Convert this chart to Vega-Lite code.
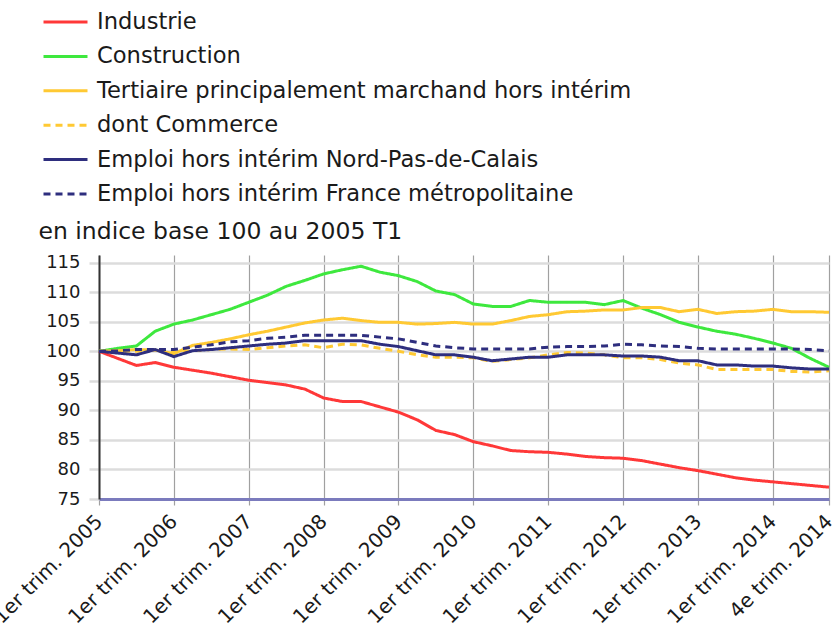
{
  "$schema": "https://vega.github.io/schema/vega-lite/v6.json",
  "width": 730,
  "height": 244,
  "autosize": {"type": "none"},
  "padding": {"left": 99, "top": 255, "right": 3, "bottom": 141},
  "background": "white",
  "config": {
    "view": {"stroke": null},
    "font": "DejaVu Sans",
    "legend": {"rowPadding": 9.4}
  },
  "data": {
    "values": [
      {"t":0,"Industrie":100,"Construction":100,"Tertiaire principalement marchand hors intérim":100,"dont Commerce":100,"Emploi hors intérim Nord-Pas-de-Calais":100,"Emploi hors intérim France métropolitaine":100},
      {"t":1,"Industrie":98.8,"Construction":100.5,"Tertiaire principalement marchand hors intérim":100.1,"dont Commerce":100.0,"Emploi hors intérim Nord-Pas-de-Calais":99.7,"Emploi hors intérim France métropolitaine":100.1},
      {"t":2,"Industrie":97.6,"Construction":100.9,"Tertiaire principalement marchand hors intérim":100.3,"dont Commerce":100.0,"Emploi hors intérim Nord-Pas-de-Calais":99.4,"Emploi hors intérim France métropolitaine":100.3},
      {"t":3,"Industrie":98.1,"Construction":103.4,"Tertiaire principalement marchand hors intérim":100.2,"dont Commerce":100.3,"Emploi hors intérim Nord-Pas-de-Calais":100.3,"Emploi hors intérim France métropolitaine":100.3},
      {"t":4,"Industrie":97.3,"Construction":104.6,"Tertiaire principalement marchand hors intérim":99.6,"dont Commerce":99.8,"Emploi hors intérim Nord-Pas-de-Calais":99.1,"Emploi hors intérim France métropolitaine":100.3},
      {"t":5,"Industrie":96.8,"Construction":105.3,"Tertiaire principalement marchand hors intérim":101.0,"dont Commerce":100.1,"Emploi hors intérim Nord-Pas-de-Calais":100.1,"Emploi hors intérim France métropolitaine":100.7},
      {"t":6,"Industrie":96.3,"Construction":106.2,"Tertiaire principalement marchand hors intérim":101.5,"dont Commerce":100.3,"Emploi hors intérim Nord-Pas-de-Calais":100.3,"Emploi hors intérim France métropolitaine":101.1},
      {"t":7,"Industrie":95.7,"Construction":107.1,"Tertiaire principalement marchand hors intérim":102.1,"dont Commerce":100.4,"Emploi hors intérim Nord-Pas-de-Calais":100.6,"Emploi hors intérim France métropolitaine":101.6},
      {"t":8,"Industrie":95.1,"Construction":108.3,"Tertiaire principalement marchand hors intérim":102.8,"dont Commerce":100.3,"Emploi hors intérim Nord-Pas-de-Calais":100.9,"Emploi hors intérim France métropolitaine":101.8},
      {"t":9,"Industrie":94.7,"Construction":109.5,"Tertiaire principalement marchand hors intérim":103.4,"dont Commerce":100.6,"Emploi hors intérim Nord-Pas-de-Calais":101.2,"Emploi hors intérim France métropolitaine":102.2},
      {"t":10,"Industrie":94.3,"Construction":111.0,"Tertiaire principalement marchand hors intérim":104.1,"dont Commerce":100.9,"Emploi hors intérim Nord-Pas-de-Calais":101.4,"Emploi hors intérim France métropolitaine":102.4},
      {"t":11,"Industrie":93.6,"Construction":112.0,"Tertiaire principalement marchand hors intérim":104.8,"dont Commerce":101.1,"Emploi hors intérim Nord-Pas-de-Calais":101.8,"Emploi hors intérim France métropolitaine":102.7},
      {"t":12,"Industrie":92.1,"Construction":113.1,"Tertiaire principalement marchand hors intérim":105.3,"dont Commerce":100.6,"Emploi hors intérim Nord-Pas-de-Calais":101.8,"Emploi hors intérim France métropolitaine":102.7},
      {"t":13,"Industrie":91.5,"Construction":113.8,"Tertiaire principalement marchand hors intérim":105.6,"dont Commerce":101.2,"Emploi hors intérim Nord-Pas-de-Calais":101.8,"Emploi hors intérim France métropolitaine":102.7},
      {"t":14,"Industrie":91.5,"Construction":114.4,"Tertiaire principalement marchand hors intérim":105.2,"dont Commerce":101.1,"Emploi hors intérim Nord-Pas-de-Calais":101.8,"Emploi hors intérim France métropolitaine":102.7},
      {"t":15,"Industrie":90.6,"Construction":113.4,"Tertiaire principalement marchand hors intérim":104.9,"dont Commerce":100.5,"Emploi hors intérim Nord-Pas-de-Calais":101.2,"Emploi hors intérim France métropolitaine":102.4},
      {"t":16,"Industrie":89.7,"Construction":112.8,"Tertiaire principalement marchand hors intérim":104.9,"dont Commerce":100.0,"Emploi hors intérim Nord-Pas-de-Calais":100.8,"Emploi hors intérim France métropolitaine":102.1},
      {"t":17,"Industrie":88.4,"Construction":111.8,"Tertiaire principalement marchand hors intérim":104.6,"dont Commerce":99.4,"Emploi hors intérim Nord-Pas-de-Calais":100.1,"Emploi hors intérim France métropolitaine":101.5},
      {"t":18,"Industrie":86.6,"Construction":110.2,"Tertiaire principalement marchand hors intérim":104.7,"dont Commerce":99.0,"Emploi hors intérim Nord-Pas-de-Calais":99.4,"Emploi hors intérim France métropolitaine":100.9},
      {"t":19,"Industrie":85.9,"Construction":109.6,"Tertiaire principalement marchand hors intérim":104.9,"dont Commerce":99.0,"Emploi hors intérim Nord-Pas-de-Calais":99.4,"Emploi hors intérim France métropolitaine":100.6},
      {"t":20,"Industrie":84.7,"Construction":108.0,"Tertiaire principalement marchand hors intérim":104.6,"dont Commerce":98.9,"Emploi hors intérim Nord-Pas-de-Calais":99.0,"Emploi hors intérim France métropolitaine":100.4},
      {"t":21,"Industrie":84.0,"Construction":107.6,"Tertiaire principalement marchand hors intérim":104.6,"dont Commerce":98.3,"Emploi hors intérim Nord-Pas-de-Calais":98.4,"Emploi hors intérim France métropolitaine":100.4},
      {"t":22,"Industrie":83.2,"Construction":107.6,"Tertiaire principalement marchand hors intérim":105.2,"dont Commerce":98.6,"Emploi hors intérim Nord-Pas-de-Calais":98.7,"Emploi hors intérim France métropolitaine":100.4},
      {"t":23,"Industrie":83.0,"Construction":108.6,"Tertiaire principalement marchand hors intérim":105.9,"dont Commerce":98.9,"Emploi hors intérim Nord-Pas-de-Calais":99.0,"Emploi hors intérim France métropolitaine":100.4},
      {"t":24,"Industrie":82.9,"Construction":108.3,"Tertiaire principalement marchand hors intérim":106.2,"dont Commerce":99.4,"Emploi hors intérim Nord-Pas-de-Calais":99.0,"Emploi hors intérim France métropolitaine":100.7},
      {"t":25,"Industrie":82.6,"Construction":108.3,"Tertiaire principalement marchand hors intérim":106.7,"dont Commerce":99.8,"Emploi hors intérim Nord-Pas-de-Calais":99.4,"Emploi hors intérim France métropolitaine":100.8},
      {"t":26,"Industrie":82.2,"Construction":108.3,"Tertiaire principalement marchand hors intérim":106.8,"dont Commerce":99.7,"Emploi hors intérim Nord-Pas-de-Calais":99.4,"Emploi hors intérim France métropolitaine":100.8},
      {"t":27,"Industrie":82.0,"Construction":107.9,"Tertiaire principalement marchand hors intérim":107.0,"dont Commerce":99.4,"Emploi hors intérim Nord-Pas-de-Calais":99.4,"Emploi hors intérim France métropolitaine":100.9},
      {"t":28,"Industrie":81.9,"Construction":108.6,"Tertiaire principalement marchand hors intérim":107.0,"dont Commerce":98.9,"Emploi hors intérim Nord-Pas-de-Calais":99.2,"Emploi hors intérim France métropolitaine":101.2},
      {"t":29,"Industrie":81.5,"Construction":107.3,"Tertiaire principalement marchand hors intérim":107.4,"dont Commerce":98.9,"Emploi hors intérim Nord-Pas-de-Calais":99.2,"Emploi hors intérim France métropolitaine":101.1},
      {"t":30,"Industrie":80.9,"Construction":106.2,"Tertiaire principalement marchand hors intérim":107.4,"dont Commerce":98.6,"Emploi hors intérim Nord-Pas-de-Calais":99.0,"Emploi hors intérim France métropolitaine":100.9},
      {"t":31,"Industrie":80.3,"Construction":104.9,"Tertiaire principalement marchand hors intérim":106.7,"dont Commerce":98.0,"Emploi hors intérim Nord-Pas-de-Calais":98.4,"Emploi hors intérim France métropolitaine":100.8},
      {"t":32,"Industrie":79.8,"Construction":104.1,"Tertiaire principalement marchand hors intérim":107.1,"dont Commerce":97.7,"Emploi hors intérim Nord-Pas-de-Calais":98.4,"Emploi hors intérim France métropolitaine":100.5},
      {"t":33,"Industrie":79.2,"Construction":103.4,"Tertiaire principalement marchand hors intérim":106.4,"dont Commerce":96.9,"Emploi hors intérim Nord-Pas-de-Calais":97.7,"Emploi hors intérim France métropolitaine":100.4},
      {"t":34,"Industrie":78.6,"Construction":102.9,"Tertiaire principalement marchand hors intérim":106.7,"dont Commerce":96.9,"Emploi hors intérim Nord-Pas-de-Calais":97.7,"Emploi hors intérim France métropolitaine":100.4},
      {"t":35,"Industrie":78.2,"Construction":102.2,"Tertiaire principalement marchand hors intérim":106.8,"dont Commerce":96.9,"Emploi hors intérim Nord-Pas-de-Calais":97.5,"Emploi hors intérim France métropolitaine":100.4},
      {"t":36,"Industrie":77.9,"Construction":101.4,"Tertiaire principalement marchand hors intérim":107.1,"dont Commerce":96.9,"Emploi hors intérim Nord-Pas-de-Calais":97.5,"Emploi hors intérim France métropolitaine":100.4},
      {"t":37,"Industrie":77.6,"Construction":100.5,"Tertiaire principalement marchand hors intérim":106.7,"dont Commerce":96.6,"Emploi hors intérim Nord-Pas-de-Calais":97.2,"Emploi hors intérim France métropolitaine":100.4},
      {"t":38,"Industrie":77.3,"Construction":98.8,"Tertiaire principalement marchand hors intérim":106.7,"dont Commerce":96.5,"Emploi hors intérim Nord-Pas-de-Calais":97.0,"Emploi hors intérim France métropolitaine":100.3},
      {"t":39,"Industrie":77.0,"Construction":97.3,"Tertiaire principalement marchand hors intérim":106.6,"dont Commerce":96.7,"Emploi hors intérim Nord-Pas-de-Calais":97.0,"Emploi hors intérim France métropolitaine":100.1}
    ]
  },
  "transform": [
    {"fold": ["Industrie","Construction","Tertiaire principalement marchand hors intérim","dont Commerce","Emploi hors intérim Nord-Pas-de-Calais","Emploi hors intérim France métropolitaine"], "as": ["serie","v"]}
  ],
  "mark": {"type": "line", "strokeWidth": 3, "interpolate": "linear"},
  "encoding": {
    "x": {
      "field": "t", "type": "quantitative",
      "scale": {"domain": [0, 39], "nice": false, "zero": false},
      "axis": {
        "title": null,
        "values": [0,4,8,12,16,20,24,28,32,36,39],
        "labelExpr": "datum.value == 39 ? '4e trim. 2014' : '1er trim. ' + (2005 + datum.value / 4)",
        "labelAngle": -45,
        "labelAlign": "right",
        "labelBaseline": "middle",
        "labelFont": "DejaVu Sans",
        "labelFontSize": 20,
        "labelColor": "#1a1a1a",
        "labelPadding": 13,
        "labelOverlap": false,
        "labelBound": false,
        "labelFlush": false,
        "grid": true,
        "gridColor": "#a0a0a0",
        "gridWidth": 1.2,
        "domainColor": "#7b7bbd",
        "domainWidth": 3,
        "tickColor": "#a0a0a0",
        "tickSize": 6,
        "tickWidth": 1.2,
        "zindex": 0
      }
    },
    "y": {
      "field": "v", "type": "quantitative",
      "scale": {"domain": [75, 116.3], "nice": false, "zero": false},
      "axis": {
        "title": "en indice base 100 au 2005 T1",
        "titleAngle": 0,
        "titleAlign": "left",
        "titleBaseline": "alphabetic",
        "titleX": -61,
        "titleY": -17,
        "titleFont": "DejaVu Sans",
        "titleFontSize": 23.5,
        "titleFontWeight": "normal",
        "titleColor": "#1a1a1a",
        "values": [75,80,85,90,95,100,105,110,115],
        "labelFont": "DejaVu Sans",
        "labelFontSize": 18,
        "labelColor": "#1a1a1a",
        "labelPadding": 9,
        "grid": true,
        "gridColor": "#dcdcdc",
        "gridWidth": 2.5,
        "domainColor": "#333333",
        "domainWidth": 2,
        "tickColor": "#dcdcdc",
        "tickSize": 10,
        "tickWidth": 2.5
      }
    },
    "color": {
      "field": "serie", "type": "nominal",
      "scale": {
        "domain": ["Industrie","Construction","Tertiaire principalement marchand hors intérim","dont Commerce","Emploi hors intérim Nord-Pas-de-Calais","Emploi hors intérim France métropolitaine"],
        "range": ["#ff3838","#3ee83e","#ffc933","#ffc933","#2e2e7e","#2e2e7e"]
      },
      "legend": {
        "title": null,
        "orient": "none",
        "legendX": -46,
        "legendY": -245.5,
        "symbolType": "M-2,0L2,0",
        "symbolSize": 484,
        "symbolStrokeWidth": 3,
        "labelFont": "DejaVu Sans",
        "labelFontSize": 22.6,
        "labelColor": "#1a1a1a",
        "labelOffset": 19,
        "labelLimit": 700,
        "rowPadding": 9.4
      }
    },
    "strokeDash": {
      "field": "serie", "type": "nominal",
      "scale": {
        "domain": ["Industrie","Construction","Tertiaire principalement marchand hors intérim","dont Commerce","Emploi hors intérim Nord-Pas-de-Calais","Emploi hors intérim France métropolitaine"],
        "range": [[1,0],[1,0],[1,0],[7,5],[1,0],[7,5]]
      },
      "legend": {
        "title": null,
        "orient": "none",
        "legendX": -46,
        "legendY": -245.5,
        "symbolType": "M-2,0L2,0",
        "symbolSize": 484,
        "symbolStrokeWidth": 3,
        "labelFont": "DejaVu Sans",
        "labelFontSize": 22.6,
        "labelColor": "#1a1a1a",
        "labelOffset": 19,
        "labelLimit": 700,
        "rowPadding": 9.4
      }
    }
  }
}
